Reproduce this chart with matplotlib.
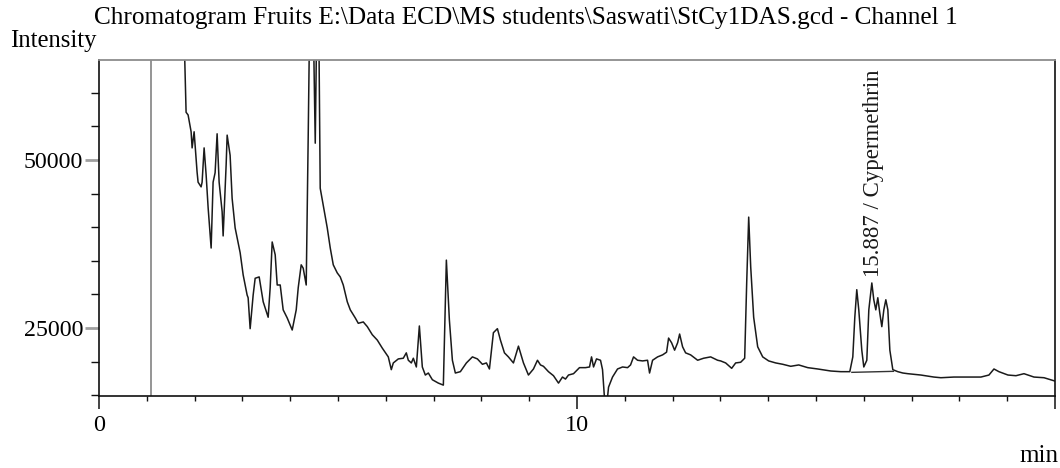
import matplotlib
matplotlib.use('Agg')
import matplotlib.pyplot as plt
from matplotlib.ticker import FixedLocator, NullFormatter

# retention time (min) and detector intensity
time = [1.74, 1.822, 1.864, 1.927, 1.948, 1.990, 2.052, 2.073, 2.136, 2.157,
        2.199, 2.241, 2.283, 2.346, 2.387, 2.429, 2.471, 2.513, 2.576, 2.597,
        2.660, 2.681, 2.743, 2.785, 2.848, 2.953, 3.016, 3.099, 3.120, 3.162,
        3.225, 3.267, 3.351, 3.435, 3.539, 3.581, 3.623, 3.686, 3.728, 3.791,
        3.853, 3.937, 4.042, 4.126, 4.168, 4.230, 4.272, 4.335, 4.377, 4.44,
        4.524, 4.58, 4.628, 4.691, 4.775, 4.838, 4.901, 4.984, 5.047, 5.110,
        5.194, 5.257, 5.361, 5.424, 5.529, 5.613, 5.717, 5.822, 5.927, 6.052,
        6.115, 6.157, 6.262, 6.366, 6.429, 6.471, 6.534, 6.576, 6.639, 6.702,
        6.764, 6.827, 6.890, 6.974, 7.099, 7.204, 7.267, 7.330, 7.393, 7.455,
        7.560, 7.686, 7.812, 7.916, 8.021, 8.105, 8.168, 8.251, 8.335, 8.398,
        8.482, 8.565, 8.670, 8.775, 8.880, 8.984, 9.089, 9.173, 9.236, 9.298,
        9.403, 9.508, 9.613, 9.696, 9.759, 9.822, 9.927, 10.052, 10.178, 10.262,
        10.304, 10.346, 10.408, 10.492, 10.534, 10.60, 10.660, 10.743, 10.848, 10.953,
        11.058, 11.120, 11.183, 11.267, 11.372, 11.476, 11.518, 11.581, 11.686, 11.791,
        11.874, 11.916, 11.979, 12.042, 12.105, 12.147, 12.209, 12.272, 12.377, 12.524,
        12.649, 12.796, 12.942, 13.005, 13.110, 13.236, 13.319, 13.424, 13.508, 13.550,
        13.592, 13.634, 13.696, 13.780, 13.885, 14.010, 14.157, 14.304, 14.471, 14.639,
        14.827, 15.037, 15.309, 15.518, 15.707, 15.770, 15.812, 15.853, 15.895, 15.958,
        16.000, 16.063, 16.105, 16.168, 16.209, 16.251, 16.293, 16.335, 16.377, 16.419,
        16.461, 16.503, 16.545, 16.607, 16.712, 16.817, 16.921, 17.194, 17.466, 17.613,
        17.885, 18.178, 18.450, 18.618, 18.723, 18.827, 19.016, 19.183, 19.351, 19.560,
        19.770, 20.0]
intensity = [80000, 57100, 56700, 54200, 51800, 54200, 48200, 46700, 46000, 46700,
             51800, 47800, 42900, 36900, 46700, 48100, 53900, 46700, 42300, 38700,
             49300, 53700, 50700, 44300, 39900, 36200, 32900, 29900, 29500, 24900,
             29900, 32400, 32600, 28900, 26600, 31000, 37800, 35900, 31400, 31400,
             27700, 26500, 24700, 27700, 31000, 34400, 33900, 31400, 53700, 90000,
             52500, 85000, 45800, 43300, 39900, 36900, 34400, 33200, 32600, 31400,
             28900, 27700, 26500, 25700, 25900, 25200, 24000, 23200, 22000, 20700,
             18800, 19800, 20400, 20500, 21300, 20200, 19800, 20500, 19200, 25300,
             19200, 18000, 18300, 17300, 16800, 16500, 35100, 26200, 20200, 18300,
             18500, 19800, 20700, 20400, 19600, 19800, 18900, 24300, 24900, 23200,
             21300, 20700, 19800, 22300, 19800, 18000, 18900, 20200, 19500, 19300,
             18500, 17900, 16800, 17700, 17400, 18000, 18200, 19100, 19100, 19200,
             20700, 19200, 20400, 20200, 18800, 12000, 16200, 17700, 18900, 19200,
             19100, 19500, 20700, 20200, 20100, 20200, 18300, 20200, 20700, 21000,
             21400, 23500, 22800, 21700, 22800, 24100, 22200, 21300, 21000, 20200,
             20500, 20700, 20200, 20100, 19800, 19000, 19800, 19900, 20500, 31700,
             41500, 34100, 26600, 22200, 20700, 20100, 19800, 19600, 19300, 19500,
             19100, 18900, 18600, 18500, 18500, 20700, 26600, 30700, 27700, 21700,
             19200, 20200, 27700, 31700, 29200, 27700, 29500, 27200, 25200, 27700,
             29200, 27700, 21700, 18800, 18500, 18300, 18200, 18000, 17700, 17600,
             17700, 17700, 17700, 18000, 18900, 18500, 18000, 17900, 18200, 17700,
             17600, 17100]

# integration baseline under the cypermethrin group
base_t = [15.75, 16.62]
base_i = [18400, 18550]

solvent_delay = 1.09
peak_label = "15.887 / Cypermethrin"
peak_label_t = 16.21
peak_label_i = 32600

plt.rcParams['font.family'] = ['Liberation Serif', 'DejaVu Serif']

fig = plt.figure(figsize=(10.6, 4.68), dpi=100)
ax = fig.add_axes([99 / 1060, 1 - 396 / 468, (1055 - 99) / 1060, (396 - 60) / 468])

ax.plot(time, intensity, color='#1a1a1a', linewidth=1.1)
ax.plot(base_t, base_i, color='#333333', linewidth=1.0)
ax.axvline(solvent_delay, color='#8c8c8c', linewidth=1.3)
ax.text(peak_label_t, peak_label_i, peak_label, rotation=90, ha='center', va='bottom',
        fontsize=16.5, color='#1a1a1a')

ax.set_xlim(0, 20)
ax.set_ylim(14880, 64880)

ax.xaxis.set_major_locator(FixedLocator([0, 10, 20]))
ax.set_xticklabels(['0', '10', ''])
ax.xaxis.set_minor_locator(FixedLocator([t for t in range(1, 20) if t != 10]))
ax.xaxis.set_minor_formatter(NullFormatter())
ax.yaxis.set_major_locator(FixedLocator([25000, 50000]))
ax.set_yticklabels(['25000', '50000'])
ax.yaxis.set_minor_locator(FixedLocator([v for v in range(15000, 65000, 5000) if v not in (25000, 50000)]))

ax.tick_params(axis='x', which='major', length=9.5, width=1.1, pad=4, labelsize=17.5, color='#111111')
ax.tick_params(axis='x', which='minor', length=3.8, width=1.0, color='#111111')
ax.tick_params(axis='y', which='major', length=10, width=2.0, pad=1.5, labelsize=17.2, color='#a0a0a0')
ax.tick_params(axis='y', which='minor', length=5.5, width=1.0, color='#111111')

# the 15 min tick is drawn a bit longer than the others
for tk in ax.xaxis.get_minor_ticks():
    if abs(tk.get_loc() - 15) < 1e-6:
        tk.tick1line.set_markersize(6.5)

for side in ['left', 'bottom', 'right']:
    ax.spines[side].set_color('#111111')
    ax.spines[side].set_linewidth(1.2)
ax.spines['top'].set_color('#8c8c8c')
ax.spines['top'].set_linewidth(1.3)

fig.text(526 / 1060, 1 - 18 / 468,
         "Chromatogram Fruits E:\\Data ECD\\MS students\\Saswati\\StCy1DAS.gcd - Channel 1",
         ha='center', va='center', fontsize=18.2)
fig.text(10 / 1060, 1 - 41 / 468, "Intensity", ha='left', va='center', fontsize=17.8)
fig.text(1058 / 1060, 1 - 456 / 468, "min", ha='right', va='center', fontsize=18)

fig.savefig('out.png', dpi=100)
